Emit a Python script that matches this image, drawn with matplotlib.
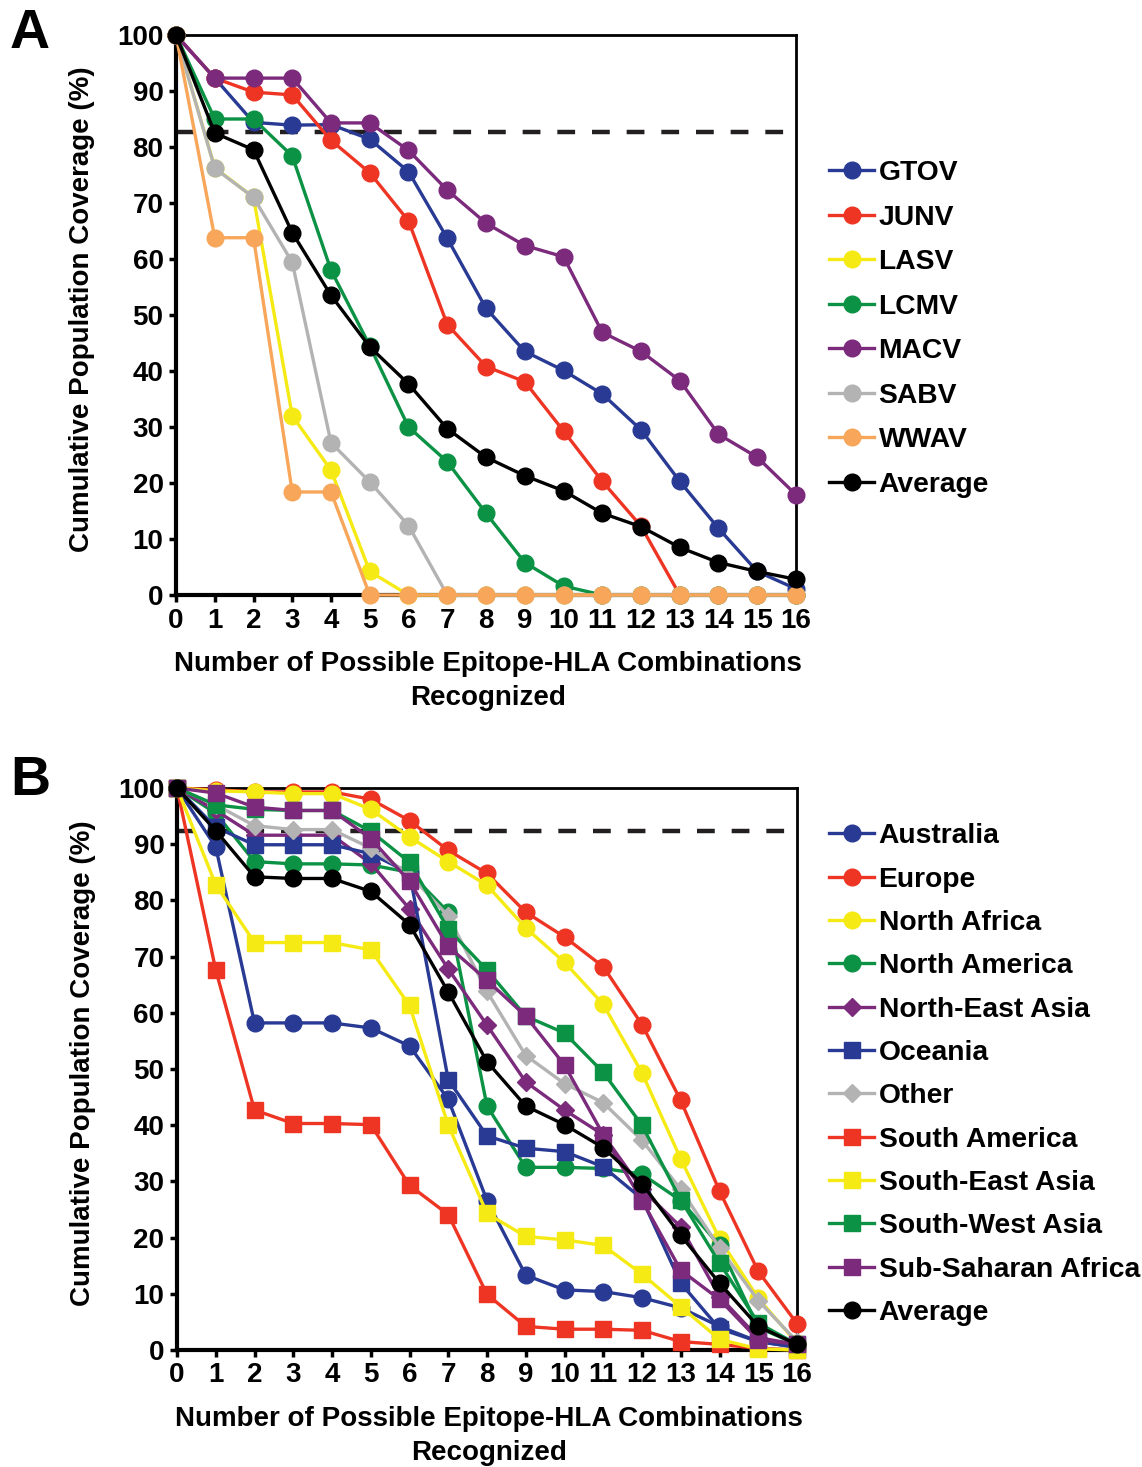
import matplotlib

matplotlib.use("Agg")
import matplotlib.pyplot as plt
import numpy as np

plt.rcParams["font.family"] = ["Liberation Sans", "DejaVu Sans"]
plt.rcParams["font.weight"] = "bold"

x_vals = np.arange(17)

# Panel A: arenavirus species
virus_names = ["GTOV", "JUNV", "LASV", "LCMV", "MACV", "SABV", "WWAV", "Average"]
gtov = [100, 92.3, 84.4, 83.9, 84.0, 81.4, 75.6, 63.7, 51.2, 43.5, 40.1, 35.9, 29.5, 20.3, 11.9, 4.2, 1.1]
junv = [100, 92.3, 89.8, 89.3, 81.2, 75.4, 66.8, 48.3, 40.8, 38.1, 29.3, 20.3, 12.3, 0, 0, 0, 0]
lasv = [100, 76.3, 71.0, 32.0, 22.3, 4.2, 0, 0, 0, 0, 0, 0, 0, 0, 0, 0, 0]
lcmv = [100, 85.0, 85.0, 78.4, 58.0, 44.5, 30.0, 23.8, 14.6, 5.8, 1.6, 0, 0, 0, 0, 0, 0]
macv = [100, 92.3, 92.3, 92.3, 84.3, 84.3, 79.4, 72.3, 66.4, 62.4, 60.4, 46.9, 43.5, 38.3, 28.7, 24.6, 17.9]
sabv = [100, 76.2, 71.0, 59.4, 27.2, 20.2, 12.4, 0, 0, 0, 0, 0, 0, 0, 0, 0, 0]
wwav = [100, 63.8, 63.8, 18.4, 18.4, 0, 0, 0, 0, 0, 0, 0, 0, 0, 0, 0, 0]
avg_a = [100, 82.5, 79.5, 64.7, 53.5, 44.3, 37.7, 29.7, 24.6, 21.3, 18.6, 14.6, 12.2, 8.5, 5.8, 4.2, 2.8]
threshold_a = 82.6

# Panel B: geographic regions
region_names = ["Australia", "Europe", "North Africa", "North America", "North-East Asia",
                "Oceania", "Other", "South America", "South-East Asia", "South-West Asia",
                "Sub-Saharan Africa", "Average"]
australia = [100, 89.5, 58.2, 58.2, 58.2, 57.3, 54.1, 44.6, 26.6, 13.3, 10.7, 10.4, 9.3, 7.5, 4.2, 1.5, 0.5]
europe = [100, 99.7, 99.3, 99.3, 99.3, 98.0, 94.2, 88.9, 84.8, 77.9, 73.5, 68.2, 57.9, 44.4, 28.3, 14.0, 4.7]
north_africa = [100, 99.5, 99.3, 99.0, 99.0, 96.2, 91.3, 86.9, 82.7, 75.1, 69.0, 61.5, 49.3, 34.0, 19.8, 9.2, 1.2]
north_america = [100, 95.5, 86.9, 86.5, 86.5, 86.3, 85.0, 77.9, 43.4, 32.5, 32.5, 32.3, 31.3, 26.6, 18.6, 4.0, 1.0]
ne_asia = [100, 96.0, 91.6, 91.6, 91.6, 86.6, 78.5, 67.8, 57.8, 47.7, 42.7, 38.3, 28.6, 21.9, 9.5, 2.2, 1.0]
oceania = [100, 93.0, 89.9, 89.9, 89.9, 88.3, 84.9, 48.1, 38.1, 35.9, 35.3, 32.6, 26.9, 11.9, 3.8, 1.5, 0.5]
other = [100, 97.0, 93.3, 92.6, 92.6, 89.3, 84.6, 77.2, 63.8, 52.4, 47.4, 44.0, 37.3, 28.6, 18.2, 8.8, 1.5]
south_america = [100, 67.6, 42.7, 40.3, 40.3, 40.1, 29.3, 24.1, 9.9, 4.2, 3.7, 3.7, 3.5, 1.5, 1.0, 0.3, 0]
se_asia = [100, 82.8, 72.5, 72.5, 72.5, 71.2, 61.3, 40.0, 24.3, 20.2, 19.6, 18.6, 13.5, 7.7, 1.9, 0.2, 0]
sw_asia = [100, 97.0, 96.2, 96.0, 96.0, 92.3, 86.8, 74.9, 67.6, 59.4, 56.4, 49.4, 40.0, 26.7, 15.5, 4.8, 1.0]
ss_africa = [100, 99.1, 96.6, 96.0, 96.0, 91.0, 83.4, 71.8, 65.8, 59.4, 50.7, 38.3, 26.6, 14.2, 9.0, 1.8, 1.0]
avg_b = [100, 92.4, 84.2, 83.9, 83.9, 81.6, 75.7, 63.7, 51.3, 43.4, 40.1, 36.0, 29.6, 20.4, 11.9, 4.2, 1.0]
threshold_b = 92.3

BLUE = "#283a93"
RED = "#ee3524"
YELLOW = "#f5ea14"
GREEN = "#0b9245"
PURPLE = "#7b2a7c"
GRAY = "#b3b3b3"
ORANGE = "#f7a65a"
BLACK = "#000000"

series_a = [
    (gtov, BLUE, "o"), (junv, RED, "o"), (lasv, YELLOW, "o"), (lcmv, GREEN, "o"),
    (macv, PURPLE, "o"), (sabv, GRAY, "o"), (wwav, ORANGE, "o"), (avg_a, BLACK, "o"),
]
series_b = [
    (australia, BLUE, "o"), (europe, RED, "o"), (north_africa, YELLOW, "o"),
    (north_america, GREEN, "o"), (ne_asia, PURPLE, "D"), (oceania, BLUE, "s"),
    (other, GRAY, "D"), (south_america, RED, "s"), (se_asia, YELLOW, "s"),
    (sw_asia, GREEN, "s"), (ss_africa, PURPLE, "s"), (avg_b, BLACK, "o"),
]


def draw_panel(ax, series, names, threshold, legend_top, spacing, letter, letter_y):
    for (vals, color, marker), name in zip(series, names):
        ms = 12 if marker == "o" else (11 if marker == "s" else 9)
        ax.plot(x_vals, vals, color=color, lw=2.4, marker=marker, ms=ms,
                mec=color, mfc=color, clip_on=False, label=name, zorder=3)
    ax.axhline(threshold, color="#231f20", lw=3.2, dashes=(4.0, 3.8), zorder=2)

    ax.set_xlim(0, 16)
    ax.set_ylim(0, 100)
    ax.set_xticks(x_vals)
    ax.set_yticks(np.arange(0, 101, 10))
    for side in ["left", "bottom"]:
        ax.spines[side].set_linewidth(3.0)
    for side in ["top", "right"]:
        ax.spines[side].set_linewidth(2.0)
    ax.tick_params(direction="out", length=5, width=2.5, labelsize=20, pad=4)
    for lab in ax.get_xticklabels() + ax.get_yticklabels():
        lab.set_fontweight("bold")

    ax.set_ylabel("Cumulative Population Coverage (%)", fontsize=20, fontweight="bold")
    ax.yaxis.set_label_coords(-0.131, 0.511)
    ax.set_xlabel("Number of Possible Epitope-HLA Combinations\nRecognized",
                  fontsize=20, fontweight="bold", linespacing=1.38)
    ax.xaxis.set_label_coords(0.503, -0.1)

    ax.legend(loc="upper left", bbox_to_anchor=(818 / 1142, legend_top),
              bbox_transform=ax.figure.transFigure, frameon=False,
              prop={"size": 20.3, "weight": "bold"}, handlelength=1.6,
              handletextpad=0.15, labelspacing=spacing, borderaxespad=0)

    ax.figure.text(10 / 1142, letter_y, letter, fontsize=40, fontweight="bold",
                   va="top", ha="left")


fig = plt.figure(figsize=(11.42, 14.67), dpi=100)
ax_a = fig.add_axes([176 / 1142, 1 - 595 / 1467, 620 / 1142, 560 / 1467])
ax_b = fig.add_axes([177 / 1142, 1 - 1350 / 1467, 620 / 1142, 562 / 1467])

draw_panel(ax_a, series_a, virus_names, threshold_a, 1 - 149 / 1467, 0.655, "A", 1 - 8 / 1467)
draw_panel(ax_b, series_b, region_names, threshold_b, 1 - 812 / 1467, 0.615, "B", 1 - 755 / 1467)

fig.savefig("out.png", dpi=100)
